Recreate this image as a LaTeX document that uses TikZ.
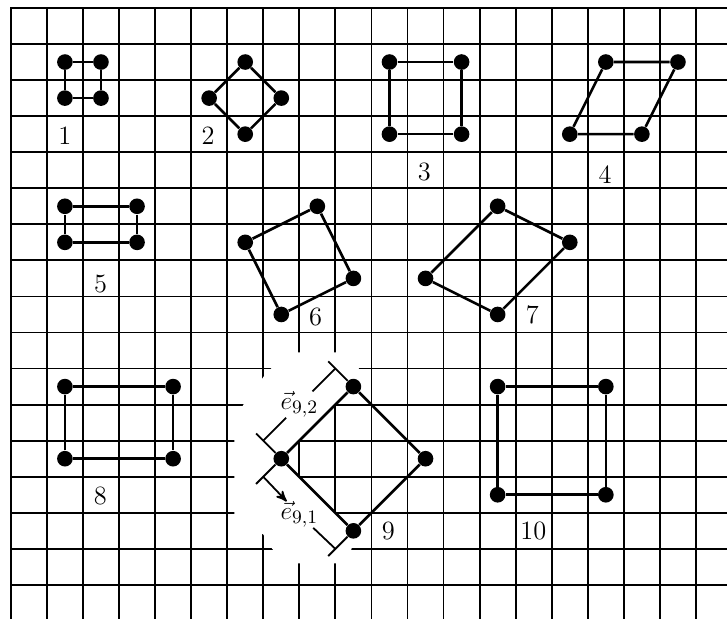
\documentclass[tikz,border=0pt]{standalone}
\usepackage{amsmath}
\usepackage{amssymb}
\usepackage{tikz}
\usetikzlibrary{arrows}
\tikzset{
	dot node/.style={circle,fill=black,draw=none,inner sep=0pt,minimum size=0.26cm},
	num node/.style={font=\fontsize{12.5}{14}\selectfont,inner sep=0pt},
	vec node/.style={font=\fontsize{12.5}{14}\selectfont,inner sep=0pt},
	grid line/.style={line width=0.85pt,line cap=rect},
	edge line/.style={line width=1.25pt},
	dim line/.style={line width=0.85pt}
}

\begin{document}
\begin{tikzpicture}[x=0.6cm,y=-0.6cm,>=stealth']
	\useasboundingbox (-0.3,-0.22) rectangle (19.86,16.92);
	% squared paper
	\foreach \i in {0,...,19}
		\draw [grid line] (\i,0) -- (\i,17);
	\foreach \j in {0,...,16}
		\draw [grid line] (0,\j) -- (20,\j);
	\fill [white] (9.5,10.5) -- (9.65,10) -- (9.3,9.55) -- (7.75,9.55) -- (7.1,10.1) -- (6.45,11) -- (6.2,11.5)
		-- (6.2,14.1) -- (7,14.6) -- (7.25,15) -- (7.6,15.4) -- (9.2,15.4) -- (9.45,15) -- (9.5,14.5) -- (7.5,12.5) -- cycle;

	\node [dot node] (1a) at (1.5,1.5) {};
	\node [dot node] (1b) at (2.5,1.5) {};
	\node [dot node] (1c) at (2.5,2.5) {};
	\node [dot node] (1d) at (1.5,2.5) {};
	\node [num node] (l1) at (1.5,3.53) {1};
	\draw [edge line] (1a) -- (1b) -- (1c) -- (1d) -- (1a);

	\node [dot node] (2a) at (5.5,2.5) {};
	\node [dot node] (2b) at (6.5,1.5) {};
	\node [dot node] (2c) at (7.5,2.5) {};
	\node [dot node] (2d) at (6.5,3.5) {};
	\node [num node] (l2) at (5.47,3.53) {2};
	\draw [edge line] (2a) -- (2b) -- (2c) -- (2d) -- (2a);

	\node [dot node] (3a) at (10.5,1.5) {};
	\node [dot node] (3b) at (12.5,1.5) {};
	\node [dot node] (3c) at (12.5,3.5) {};
	\node [dot node] (3d) at (10.5,3.5) {};
	\node [num node] (l3) at (11.47,4.54) {3};
	\draw [edge line] (3a) -- (3b) -- (3c) -- (3d) -- (3a);

	\node [dot node] (4a) at (16.5,1.5) {};
	\node [dot node] (4b) at (18.5,1.5) {};
	\node [dot node] (4c) at (17.5,3.5) {};
	\node [dot node] (4d) at (15.5,3.5) {};
	\node [num node] (l4) at (16.48,4.62) {4};
	\draw [edge line] (4a) -- (4b) -- (4c) -- (4d) -- (4a);

	\node [dot node] (5a) at (1.5,5.5) {};
	\node [dot node] (5b) at (3.5,5.5) {};
	\node [dot node] (5c) at (3.5,6.5) {};
	\node [dot node] (5d) at (1.5,6.5) {};
	\node [num node] (l5) at (2.49,7.65) {5};
	\draw [edge line] (5a) -- (5b) -- (5c) -- (5d) -- (5a);

	\node [dot node] (6a) at (6.5,6.5) {};
	\node [dot node] (6b) at (8.5,5.5) {};
	\node [dot node] (6c) at (9.5,7.5) {};
	\node [dot node] (6d) at (7.5,8.5) {};
	\node [num node] (l6) at (8.45,8.56) {6};
	\draw [edge line] (6a) -- (6b) -- (6c) -- (6d) -- (6a);

	\node [dot node] (7a) at (11.5,7.5) {};
	\node [dot node] (7b) at (13.5,5.5) {};
	\node [dot node] (7c) at (15.5,6.5) {};
	\node [dot node] (7d) at (13.5,8.5) {};
	\node [num node] (l7) at (14.46,8.51) {7};
	\draw [edge line] (7a) -- (7b) -- (7c) -- (7d) -- (7a);

	\node [dot node] (8a) at (1.5,10.5) {};
	\node [dot node] (8b) at (4.5,10.5) {};
	\node [dot node] (8c) at (4.5,12.5) {};
	\node [dot node] (8d) at (1.5,12.5) {};
	\node [num node] (l8) at (2.48,13.54) {8};
	\draw [edge line] (8a) -- (8b) -- (8c) -- (8d) -- (8a);

	\node [dot node] (9a) at (7.5,12.5) {};
	\node [dot node] (9b) at (9.5,10.5) {};
	\node [dot node] (9c) at (11.5,12.5) {};
	\node [dot node] (9d) at (9.5,14.5) {};
	\node [num node] (l9) at (10.47,14.51) {9};
	\draw [edge line] (9a) -- (9b) -- (9c) -- (9d) -- (9a);

	\node [dot node] (10a) at (13.5,10.5) {};
	\node [dot node] (10b) at (16.5,10.5) {};
	\node [dot node] (10c) at (16.5,13.5) {};
	\node [dot node] (10d) at (13.5,13.5) {};
	\node [num node] (l10) at (14.49,14.51) {10};
	\draw [edge line] (10a) -- (10b) -- (10c) -- (10d) -- (10a);

	% basis vectors of 9
	\coordinate (x2a) at (6.8,11.8);
	\coordinate (x2b) at (8.8,9.8);
	\coordinate (x1a) at (6.8,13.2);
	\coordinate (x1b) at (8.8,15.2);
	\coordinate (d2a) at (7,12);
	\coordinate (d2b) at (9,10);
	\coordinate (d1a) at (7,13);
	\coordinate (d1b) at (9,15);
	\node [vec node] (e92) at (8,11) {$\vec{e}_{9,2}$};
	\node [vec node] (e91) at (8,14.05) {$\vec{e}_{9,1}$};
	\draw [dim line] (9a) -- (x2a);
	\draw [dim line] (9b) -- (x2b);
	\draw [dim line] (9a) -- (x1a);
	\draw [dim line] (9d) -- (x1b);
	\draw [dim line] (d2a) -- (e92) -- (d2b);
	\draw [dim line,->] (d1a) -- (e91);
	\draw [dim line] (e91) -- (d1b);
\end{tikzpicture}
\end{document}
